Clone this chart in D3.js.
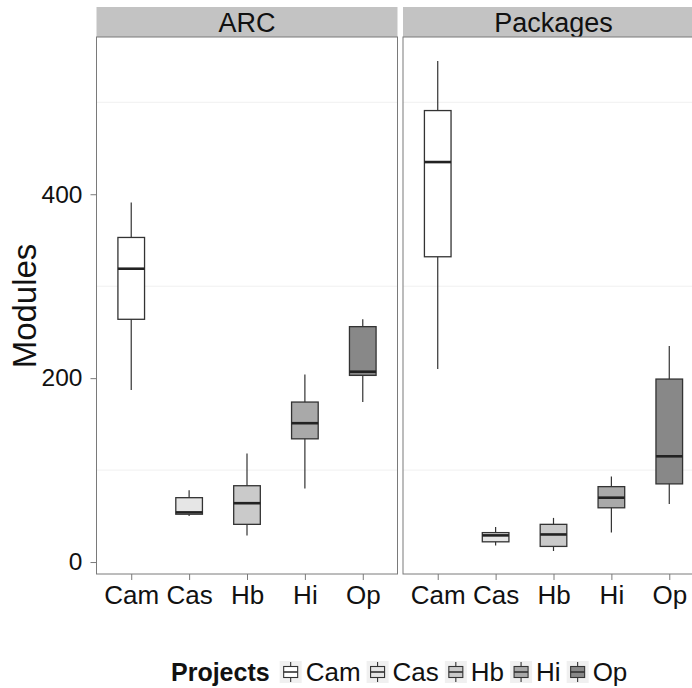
<!DOCTYPE html>
<html>
<head>
<meta charset="utf-8">
<script src="https://cdn.jsdelivr.net/npm/d3@7"></script>
<style>
  body { margin: 0; background: #fff; }
  text { font-family: "Liberation Sans", Arial, sans-serif; }
</style>
</head>
<body>
<svg id="chart" width="692" height="688"></svg>
<script>
// data: [lower whisker, q1, median, q3, upper whisker]
const projects = ["Cam", "Cas", "Hb", "Hi", "Op"];
const facets = ["ARC", "Packages"];
const arcStats = [
  [187, 264, 319, 353, 391],
  [50, 52, 54, 70, 78],
  [29, 41, 64, 83, 118],
  [80, 134, 151, 174, 204],
  [174, 203, 207, 256, 264],
];
const packageStats = [
  [210, 332, 435, 491, 545],
  [18, 22, 29, 32, 38],
  [12, 17, 30, 41, 48],
  [32, 59, 70, 82, 93],
  [63, 85, 115, 199, 235],
];
const yTicks = [0, 200, 400];
const yMinor = [100, 300, 500];
const fills = ["#ffffff", "#e6e6e6", "#cacaca", "#a9a9a9", "#888888"];

const svg = d3.select("#chart");
const panelTop = 37, panelBottom = 574;
const panelLefts = [96.5, 403];
const panelW = 301;

const y = d3.scaleLinear().domain([-13, 571]).range([panelBottom, panelTop]);
const color = d3.scaleOrdinal().domain(projects).range(fills);

const statsByFacet = [arcStats, packageStats];

facets.forEach((f, fi) => {
  const left = panelLefts[fi];
  const x = d3.scalePoint().domain(projects).range([left, left + panelW]).padding(0.6);
  const boxW = x.step() * 0.46;
  const g = svg.append("g");

  // strip
  g.append("rect")
    .attr("x", left).attr("y", 7)
    .attr("width", panelW).attr("height", panelTop - 7)
    .attr("fill", "#c3c3c3");
  g.append("text")
    .text(f)
    .attr("x", left + panelW / 2).attr("y", 31.5)
    .attr("text-anchor", "middle")
    .style("font-size", "27px")
    .style("fill", "#111");

  // panel
  g.append("rect")
    .attr("x", left).attr("y", panelTop)
    .attr("width", panelW).attr("height", panelBottom - panelTop)
    .attr("fill", "#fff");
  g.selectAll(".minor")
    .data(yMinor)
    .join("line")
    .attr("x1", left).attr("x2", left + panelW)
    .attr("y1", d => y(d)).attr("y2", d => y(d))
    .attr("stroke", "#f0f0f0")
    .attr("stroke-width", 1);

  // boxes
  const stats = statsByFacet[fi];
  projects.forEach((p, i) => {
    const s = stats[i];
    const cx = x(p);
    g.append("line")
      .attr("x1", cx).attr("x2", cx)
      .attr("y1", y(s[0])).attr("y2", y(s[4]))
      .attr("stroke", "#333").attr("stroke-width", 1.2);
    g.append("rect")
      .attr("x", cx - boxW / 2).attr("width", boxW)
      .attr("y", y(s[3])).attr("height", y(s[1]) - y(s[3]))
      .attr("fill", color(p))
      .attr("stroke", "#333").attr("stroke-width", 1.3);
    g.append("line")
      .attr("x1", cx - boxW / 2).attr("x2", cx + boxW / 2)
      .attr("y1", y(s[2])).attr("y2", y(s[2]))
      .attr("stroke", "#222").attr("stroke-width", 2.6);
  });

  // border
  g.append("rect")
    .attr("x", left).attr("y", panelTop)
    .attr("width", panelW).attr("height", panelBottom - panelTop)
    .attr("fill", "none")
    .attr("stroke", "#7a7a7a").attr("stroke-width", 1);

  // x axis
  const xAxis = g.append("g")
    .attr("transform", "translate(0," + panelBottom + ")")
    .call(d3.axisBottom(x).tickSize(6).tickPadding(6));
  xAxis.select(".domain").remove();
  xAxis.selectAll("line").attr("stroke", "#7a7a7a");
  xAxis.selectAll("text")
    .style("font-size", "26px")
    .style("fill", "#111")
    .style("font-family", "Liberation Sans, Arial, sans-serif");
});

// y axis
const yAxis = svg.append("g")
  .attr("transform", "translate(" + panelLefts[0] + ",0)")
  .call(d3.axisLeft(y).tickValues(yTicks).tickSize(6).tickPadding(8));
yAxis.select(".domain").remove();
yAxis.selectAll("line").attr("stroke", "#7a7a7a");
yAxis.selectAll("text")
  .style("font-size", "24.5px")
  .style("fill", "#111")
  .style("font-family", "Liberation Sans, Arial, sans-serif");

svg.append("text")
  .text("Modules")
  .attr("transform", "translate(36," + 306 + ") rotate(-90)")
  .attr("text-anchor", "middle")
  .style("font-size", "33px")
  .style("fill", "#111");

// legend
const legY = 672;
const leg = svg.append("g");
const title = leg.append("text")
  .text("Projects")
  .attr("x", 171).attr("y", legY + 9)
  .style("font-size", "25px")
  .style("font-weight", "bold")
  .style("fill", "#111");
let lx = 171 + title.node().getComputedTextLength() + 10;
projects.forEach(p => {
  const k = 22;
  leg.append("rect")
    .attr("x", lx).attr("y", legY - k / 2)
    .attr("width", k).attr("height", k)
    .attr("fill", "#f0f0f0");
  leg.append("line")
    .attr("x1", lx + k / 2).attr("x2", lx + k / 2)
    .attr("y1", legY - k / 2 + 1).attr("y2", legY + k / 2 - 1)
    .attr("stroke", "#333").attr("stroke-width", 1.1);
  leg.append("rect")
    .attr("x", lx + 4).attr("y", legY - 5.5)
    .attr("width", k - 8).attr("height", 11)
    .attr("fill", color(p))
    .attr("stroke", "#333").attr("stroke-width", 1.1);
  leg.append("line")
    .attr("x1", lx + 4).attr("x2", lx + k - 4)
    .attr("y1", legY).attr("y2", legY)
    .attr("stroke", "#333").attr("stroke-width", 1.6);
  const t = leg.append("text")
    .text(p)
    .attr("x", lx + k + 4).attr("y", legY + 9)
    .style("font-size", "26px")
    .style("fill", "#111");
  lx = lx + k + 4 + t.node().getComputedTextLength() + 6;
});
</script>
</body>
</html>
